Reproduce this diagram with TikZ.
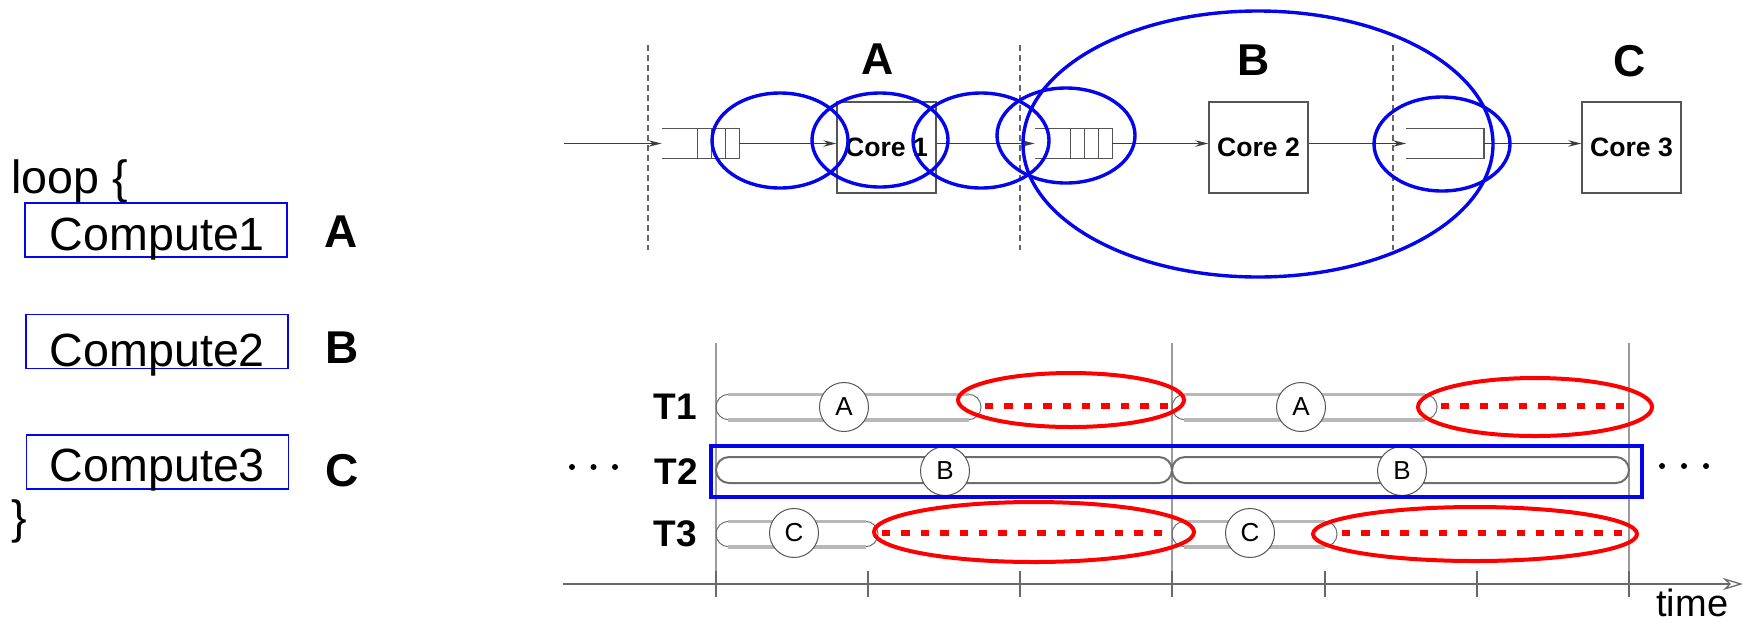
\documentclass[tikz,border=0pt]{standalone}
\usepackage{fontspec}
\setmainfont{Liberation Sans}
\usetikzlibrary{arrows.meta,calc}

\definecolor{hlblue}{RGB}{5,5,235}
\definecolor{hlred}{RGB}{255,0,0}
\definecolor{pipegray}{RGB}{60,60,60}
\definecolor{boxgray}{RGB}{85,85,85}
\definecolor{dashgray}{RGB}{100,100,100}
\definecolor{lightbar}{RGB}{184,184,184}
\definecolor{darkbar}{RGB}{110,110,110}
\definecolor{vgray}{RGB}{155,155,155}
\definecolor{tickgray}{RGB}{105,105,105}

% one thread run drawn as a pill: thin dark ends, light grey top and bottom
\newcommand{\runbar}[3]{%
  \draw[draw=darkbar, line width=0.5pt, rounded corners=6.3pt] (#1,#3-12.7) rectangle (#2,#3+12.7);
  \draw[draw=lightbar, line width=1.8pt] (#1+12,#3-12.7) -- (#2-12,#3-12.7) (#1+12,#3+12.7) -- (#2-12,#3+12.7);
}

\begin{document}
\begin{tikzpicture}[x=0.5pt,y=-0.5pt,
  codebox/.style={draw=hlblue, line width=0.7pt, minimum width=131pt, minimum height=27pt, inner sep=0},
  codetext/.style={anchor=base west, inner sep=0, font=\fontsize{23.3}{28}\selectfont},
  biglabel/.style={anchor=base, inner sep=0, font=\fontsize{23}{28}\selectfont\bfseries},
  stagelabel/.style={anchor=base, inner sep=0, font=\fontsize{22.3}{27}\selectfont\bfseries},
  core/.style={draw=boxgray, line width=0.65pt, minimum width=49.5pt, minimum height=45.5pt, inner sep=0, font=\fontsize{13.3}{16}\selectfont\bfseries},
  queue/.style={minimum width=38.5pt, minimum height=14.5pt, inner sep=0},
  qline/.style={draw=boxgray, line width=0.65pt},
  flow/.style={draw=pipegray, line width=0.75pt, -{Stealth[length=6.5pt,width=3.2pt]}},
  sepline/.style={draw=dashgray, line width=0.65pt, dash pattern=on 3pt off 2pt},
  hlell/.style={draw=hlblue, line width=1.7pt},
  hlbox/.style={draw=hlblue, line width=1.7pt},
  idle/.style={draw=hlred, line width=3.3pt, dash pattern=on 4.2pt off 5.5pt},
  idlering/.style={draw=hlred, line width=2pt},
  threadlabel/.style={anchor=base, inner sep=0, font=\fontsize{18.5}{22}\selectfont\bfseries},
  task/.style={circle, draw=boxgray, line width=0.5pt, fill=white, minimum size=24.5pt, inner sep=0, font=\fontsize{13}{15}\selectfont},
  vline/.style={draw=vgray, line width=0.75pt},
  tick/.style={draw=tickgray, line width=0.65pt},
  axis/.style={draw=tickgray, line width=0.65pt, -{Stealth[open,length=10pt,width=6pt,inset=3pt]}}
]
\useasboundingbox (0,0) rectangle (1748,622);

% ---------- loop source ----------
\node[codetext] (loop) at (11,193) {loop \{};
\node[codebox] (box1) at (156,230) {};
\node[codebox] (box2) at (157,341.5) {};
\node[codebox] (box3) at (157.5,462) {};
\node[codetext] (comp1) at (49.5,250) {Compute1};
\node[codetext] (comp2) at (49.5,366.5) {Compute2};
\node[codetext] (comp3) at (49.5,481) {Compute3};
\node[codetext] (close) at (11,533) {\}};
\node[biglabel] (labA) at (341,247) {A};
\node[biglabel] (labB) at (342.5,363) {B};
\node[biglabel] (labC) at (342.5,486) {C};

% ---------- pipeline of cores ----------
\foreach \x in {648,1020,1393} \draw[sepline] (\x,45) -- (\x,250);

\node[stagelabel] (stA) at (877.5,74) {A};
\node[stagelabel] (stB) at (1254,75) {B};
\node[stagelabel] (stC) at (1629.5,76.5) {C};

\node[core] (core1) at (886.5,147.5) {Core 1};
\node[core] (core2) at (1258.5,147.5) {Core 2};
\node[core] (core3) at (1631.5,147.5) {Core 3};

\node[queue] (q1) at (700.5,143.5) {};
\node[queue] (q2) at (1073.5,143.5) {};
\node[queue] (q3) at (1445,143.5) {};
\foreach \q in {q1,q2,q3}
  \draw[qline] (\q.north west) -- (\q.north east) -- (\q.south east) -- (\q.south west);
\foreach \q in {q1,q2} \foreach \k in {1,2,3}
  \draw[qline] ($(\q.north east)+(-14*\k,0)$) -- ($(\q.south east)+(-14*\k,0)$);

\coordinate (src) at (564,143.5);
\draw[flow] (src) -- (q1.west);
\draw[flow] (q1.east) -- (q1.east -| core1.west);
\draw[flow] (q2.west -| core1.east) -- (q2.west);
\draw[flow] (q2.east) -- (q2.east -| core2.west);
\draw[flow] (q3.west -| core2.east) -- (q3.west);
\draw[flow] (q3.east) -- (q3.east -| core3.west);

% highlighted regions
\draw[hlell] (780,140.5) ellipse [x radius=34pt, y radius=23.75pt];
\draw[hlell] (880,140) ellipse [x radius=34pt, y radius=23.5pt];
\draw[hlell] (981,140.5) ellipse [x radius=34pt, y radius=23.75pt];
\draw[hlell] (1066,135.5) ellipse [x radius=34.5pt, y radius=23.75pt];
\draw[hlell] (1442,144) ellipse [x radius=34pt, y radius=23.5pt];
\draw[hlell] (1258,144) ellipse [x radius=117.5pt, y radius=66.5pt];

% ---------- thread timeline ----------
\foreach \x in {716,1172,1629} \draw[vline] (\x,343) -- (\x,597);
\foreach \x in {868,1020,1325,1477} \draw[tick] (\x,571) -- (\x,597);
\foreach \x in {716,1172,1629} \draw[tick] (\x,571) -- (\x,597);
\coordinate (t0) at (563,584);
\coordinate (tend) at (1743,584);
\draw[axis] (t0) -- (tend);
\node[anchor=base west, inner sep=0, font=\fontsize{19}{22}\selectfont] (timelbl) at (1656,616) {time};

\node[threadlabel] (th1) at (675,419) {T1};
\node[threadlabel] (th2) at (676,484) {T2};
\node[threadlabel] (th3) at (675,546) {T3};

% T1 and T3 runs
\runbar{716}{981}{407}
\runbar{1172}{1437}{407}
\runbar{716}{878}{534}
\runbar{1172}{1337}{534}
% T2 runs
\draw[draw=darkbar, line width=1pt, rounded corners=6.5pt] (716,457) rectangle (1172,483);
\draw[draw=darkbar, line width=1pt, rounded corners=6.5pt] (1172,457) rectangle (1629,483);

% idle time
\draw[idle] (985,406) -- (1172,406);
\draw[idle] (1441,406) -- (1629,406);
\draw[idle] (882,533) -- (1172,533);
\draw[idle] (1342,533) -- (1629,533);

\node[task] (ta1) at (844,407) {A};
\node[task] (ta2) at (1301,407) {A};
\node[task] (tb1) at (945,471) {B};
\node[task] (tb2) at (1402,471) {B};
\node[task] (tc1) at (794,533) {C};
\node[task] (tc2) at (1250,533) {C};

\draw[idlering] (1071,400) ellipse [x radius=56.5pt, y radius=13.5pt];
\draw[idlering] (1535,407) ellipse [x radius=58.5pt, y radius=14.5pt];
\draw[idlering] (1034,532) ellipse [x radius=80pt, y radius=15pt];
\draw[idlering] (1475,534) ellipse [x radius=81pt, y radius=13.5pt];

\draw[hlbox] (711,446) rectangle (1642,497);

\foreach \x in {572,593.5,615} \fill (\x,467) circle [radius=1.5pt];
\foreach \x in {1662,1684,1706} \fill (\x,466) circle [radius=1.5pt];
\end{tikzpicture}
\end{document}
